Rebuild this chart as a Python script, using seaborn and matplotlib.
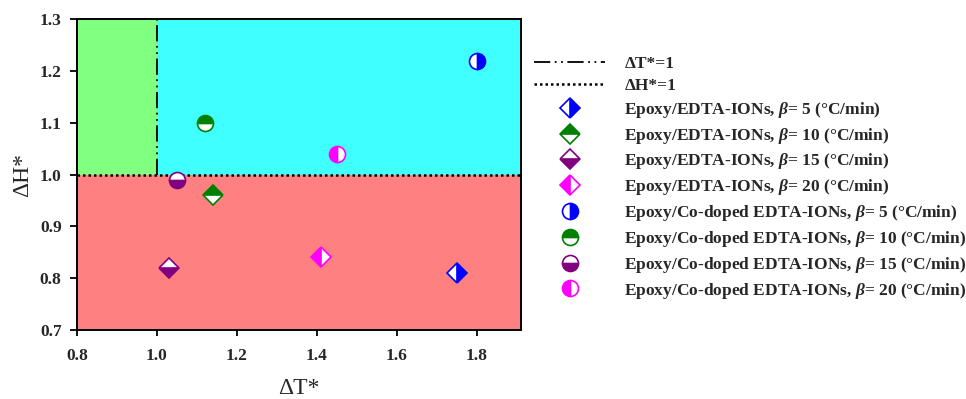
import matplotlib
matplotlib.use('Agg')
import matplotlib.pyplot as plt
import seaborn as sns

# ---- data ----
series_labels = [
    r"Epoxy/EDTA-IONs, $\beta$= 5 (°C/min)",
    r"Epoxy/EDTA-IONs, $\beta$= 10 (°C/min)",
    r"Epoxy/EDTA-IONs, $\beta$= 15 (°C/min)",
    r"Epoxy/EDTA-IONs, $\beta$= 20 (°C/min)",
    r"Epoxy/Co-doped EDTA-IONs, $\beta$= 5 (°C/min)",
    r"Epoxy/Co-doped EDTA-IONs, $\beta$= 10 (°C/min)",
    r"Epoxy/Co-doped EDTA-IONs, $\beta$= 15 (°C/min)",
    r"Epoxy/Co-doped EDTA-IONs, $\beta$= 20 (°C/min)",
]
dT_star = [1.75, 1.14, 1.03, 1.41, 1.80, 1.12, 1.05, 1.45]
dH_star = [0.81, 0.96, 0.82, 0.84, 1.22, 1.10, 0.99, 1.04]
ref_T = 1.0
ref_H = 1.0
x_ticks = [0.8, 1.0, 1.2, 1.4, 1.6, 1.8]
y_ticks = [0.7, 0.8, 0.9, 1.0, 1.1, 1.2, 1.3]

# ---- styles ----
colors = ['#0000FF', '#008000', '#800080', '#FF00FF'] * 2
markers = ['D'] * 4 + ['o'] * 4
msizes = [10.0] * 4 + [11.5] * 4
fills = ['right', 'top', 'bottom', 'left'] * 2

sns.set_theme(style='ticks')
plt.rcParams['font.family'] = ['Liberation Serif', 'DejaVu Serif']
plt.rcParams['mathtext.fontset'] = 'custom'
plt.rcParams['mathtext.it'] = 'Liberation Serif:italic:bold'
plt.rcParams['mathtext.rm'] = 'Liberation Serif:bold'

fig = plt.figure(figsize=(9.66, 3.99), dpi=100)
ax = fig.add_axes([0.0797, 0.173, 0.4593, 0.779])

xmin, xmax = 0.8, 1.91
ymin, ymax = 0.7, 1.3
ax.set_xlim(xmin, xmax)
ax.set_ylim(ymin, ymax)

frac = (ref_H - ymin) / (ymax - ymin)
ax.axhspan(ymin, ref_H, color='#FF8080', lw=0, zorder=0)
ax.axvspan(xmin, ref_T, ymin=frac, ymax=1, color='#80FF80', lw=0, zorder=0)
ax.axvspan(ref_T, xmax, ymin=frac, ymax=1, color='#40FFFF', lw=0, zorder=0)

ax.plot([ref_T, ref_T], [ref_H, ymax], color='black', lw=1.3,
        dashes=(9, 2.5, 1, 2.5, 1, 2.5), label="\u0394T*=1", zorder=2)
ax.axhline(ref_H, color='black', lw=1.8, linestyle=(0, (1, 1.2)),
           label="\u0394H*=1", zorder=2)

for i in range(len(series_labels)):
    sns.lineplot(x=[dT_star[i]], y=[dH_star[i]], ax=ax, color=colors[i],
                 marker=markers[i], markersize=msizes[i], fillstyle=fills[i],
                 markerfacecolor=colors[i], markerfacecoloralt='white',
                 markeredgecolor=colors[i], markeredgewidth=1.2,
                 linestyle='', label=series_labels[i], zorder=3,
                 errorbar=None)

ax.set_xticks(x_ticks)
ax.set_yticks(y_ticks)
ax.set_xticklabels([f"{v:.1f}" for v in x_ticks], fontweight='bold', fontsize=12.5)
ax.set_yticklabels([f"{v:.1f}" for v in y_ticks], fontweight='bold', fontsize=12.5)
ax.tick_params(axis='x', direction='out', length=4, width=1.3, color='black', pad=9)
ax.tick_params(axis='y', direction='out', length=5, width=1.3, color='black', pad=6)
for s in ax.spines.values():
    s.set_linewidth(1.4)
    s.set_color('black')

ax.set_xlabel("\u0394T*", fontsize=17, labelpad=10)
ax.set_ylabel("\u0394H*", fontsize=17, labelpad=5)

ax.legend(loc='upper left', bbox_to_anchor=(0.553, 0.86),
          bbox_transform=fig.transFigure, frameon=False,
          prop={'weight': 'bold', 'size': 12.5}, handlelength=4.1,
          handletextpad=1.1, labelspacing=0.335, borderpad=0, borderaxespad=0)

fig.savefig('out.png', dpi=100)
